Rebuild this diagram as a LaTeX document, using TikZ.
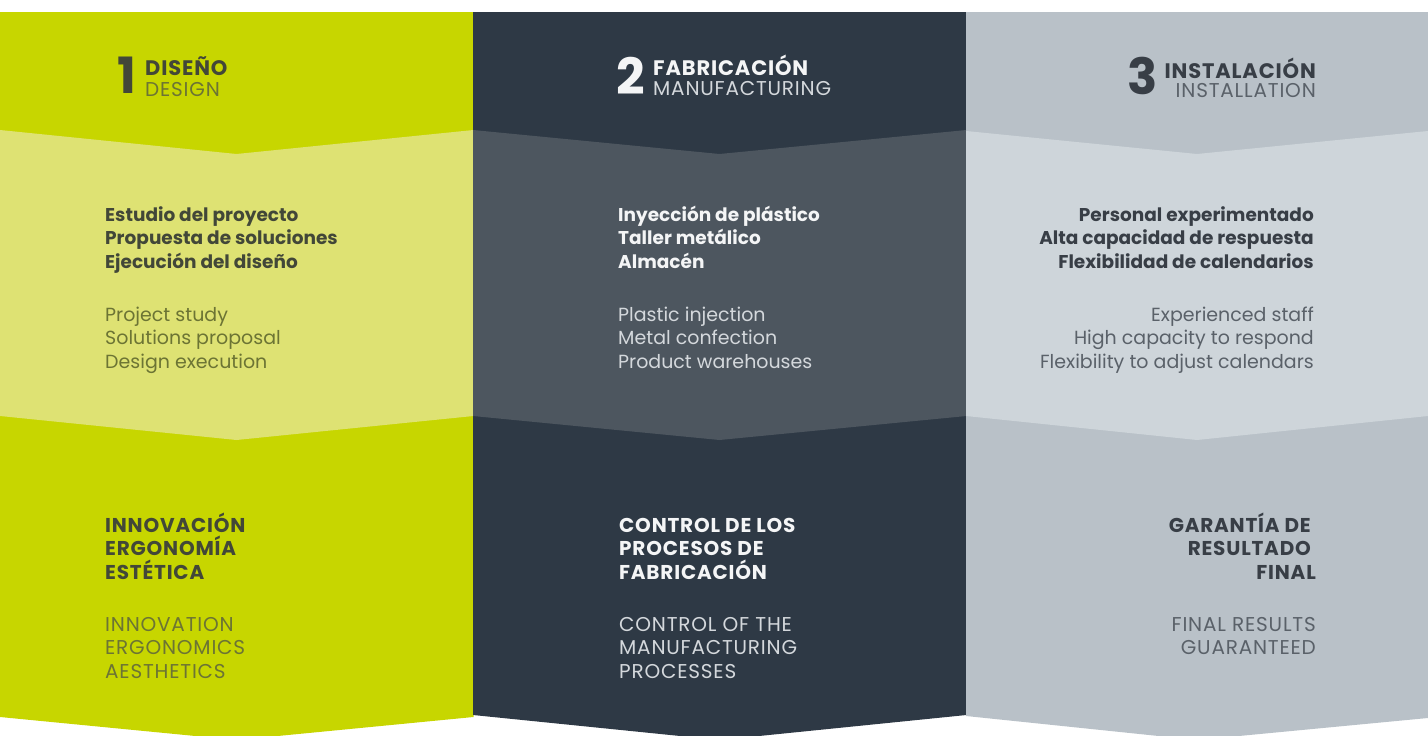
\documentclass[tikz,border=0pt]{standalone}
\usepackage{fontspec}
\setmainfont{Poppins}
\newfontfamily\widefont{Poppins}[LetterSpace=4]
\definecolor{limeB}{RGB}{199,214,0}
\definecolor{limeM}{RGB}{222,226,115}
\definecolor{darkB}{RGB}{46,57,69}
\definecolor{darkM}{RGB}{77,86,95}
\definecolor{greyB}{RGB}{185,193,200}
\definecolor{greyM}{RGB}{206,213,218}
\definecolor{t1a}{RGB}{66,71,56}
\definecolor{t1b}{RGB}{108,116,52}
\definecolor{t2a}{RGB}{244,245,246}
\definecolor{t2b}{RGB}{212,216,220}
\definecolor{t3a}{RGB}{56,62,70}
\definecolor{t3b}{RGB}{90,97,105}
\tikzset{
  numtxt/.style={inner sep=0pt, font=\fontsize{50}{50}\selectfont\bfseries},
  headtxt/.style={inner sep=0pt, font=\widefont\fontsize{21}{24}\selectfont\bfseries},
  subtxt/.style={inner sep=0pt, font=\widefont\fontsize{20}{24}\selectfont},
  estxt/.style={inner sep=0pt, font=\fontsize{18.5}{23}\selectfont\bfseries},
  entxt/.style={inner sep=0pt, font=\fontsize{19}{23}\selectfont},
  capes/.style={inner sep=0pt, font=\widefont\fontsize{20}{23}\selectfont\bfseries},
  capen/.style={inner sep=0pt, font=\widefont\fontsize{20}{23}\selectfont},
}
\begin{document}
\begin{tikzpicture}[x=1pt,y=-1pt]
\useasboundingbox (0,0) rectangle (1428,736);
\begin{scope}
\clip (0,0) rectangle (1428,736);
% column 1
\fill[limeB] (0,12) -- (473.5,12) -- (473.5,717) -- (236.5,740) -- (0,717) -- cycle;
\fill[limeM] (0,130) -- (236.5,154) -- (473.5,130) -- (473.5,416) -- (236.5,440) -- (0,416) -- cycle;
% column 2
\fill[darkB] (473,12) -- (966.5,12) -- (966.5,715) -- (719.5,740) -- (473,715) -- cycle;
\fill[darkM] (473,130) -- (719.5,154) -- (966.5,130) -- (966.5,416) -- (719.5,440) -- (473,416) -- cycle;
% column 3
\fill[greyB] (966,12) -- (1428,12) -- (1428,718) -- (1197,740) -- (966,716) -- cycle;
\fill[greyM] (966,131) -- (1197,154) -- (1428,131) -- (1428,416) -- (1197,440) -- (966,416) -- cycle;
\end{scope}

% ---------- headings ----------
\node[headtxt, text=t1a, anchor=base west] (h1) at (145,75) {DISEÑO};
\node[subtxt, text=t1b, anchor=base west] (s1) at (145,96) {DESIGN};
\node[numtxt, text=t1a, anchor=base east] (n1) at ([xshift=-9pt]h1.base west |- 0,93) {1};

\node[headtxt, text=t2a, anchor=base west] (h2) at (653,75) {FABRICACIÓN};
\node[subtxt, text=t2b, anchor=base west] (s2) at (653,95) {MANUFACTURING};
\node[numtxt, text=t2a, anchor=base east] (n2) at ([xshift=-8pt]h2.base west |- 0,94) {2};

\node[headtxt, text=t3a, anchor=base east] (h3) at (1316,78) {INSTALACIÓN};
\node[subtxt, text=t3b, anchor=base east] (s3) at (1316,97) {INSTALLATION};
\node[numtxt, text=t3a, anchor=base east] (n3) at ([xshift=-6pt]h3.base west |- 0,94) {3};

% ---------- middle band ----------
\foreach \t [count=\i] in {Estudio del proyecto, Propuesta de soluciones, Ejecución del diseño}
  \node[estxt, text=t1a, anchor=base west] (m1a\i) at (105,{221+23.5*(\i-1)}) {\t};
\foreach \t [count=\i] in {Project study, Solutions proposal, Design execution}
  \node[entxt, text=t1b, anchor=base west] (m1b\i) at (105,{321+23.5*(\i-1)}) {\t};

\foreach \t [count=\i] in {Inyección de plástico, Taller metálico, Almacén}
  \node[estxt, text=t2a, anchor=base west] (m2a\i) at (618,{221+23.5*(\i-1)}) {\t};
\foreach \t [count=\i] in {Plastic injection, Metal confection, Product warehouses}
  \node[entxt, text=t2b, anchor=base west] (m2b\i) at (618,{321+23.5*(\i-1)}) {\t};

\foreach \t [count=\i] in {Personal experimentado, Alta capacidad de respuesta, Flexibilidad de calendarios}
  \node[estxt, text=t3a, anchor=base east] (m3a\i) at (1314,{221+23.5*(\i-1)}) {\t};
\foreach \t [count=\i] in {Experienced staff, High capacity to respond, Flexibility to adjust calendars}
  \node[entxt, text=t3b, anchor=base east] (m3b\i) at (1314,{321+23.5*(\i-1)}) {\t};

% ---------- bottom band ----------
\foreach \t [count=\i] in {INNOVACIÓN, ERGONOMÍA, ESTÉTICA}
  \node[capes, text=t1a, anchor=base west] (b1a\i) at (105,{532+23.5*(\i-1)}) {\t};
\foreach \t [count=\i] in {INNOVATION, ERGONOMICS, AESTHETICS}
  \node[capen, text=t1b, anchor=base west] (b1b\i) at (105,{631+23.5*(\i-1)}) {\t};

\foreach \t [count=\i] in {CONTROL DE LOS, PROCESOS DE, FABRICACIÓN}
  \node[capes, text=t2a, anchor=base west] (b2a\i) at (619,{532+23.5*(\i-1)}) {\t};
\foreach \t [count=\i] in {CONTROL OF THE, MANUFACTURING, PROCESSES}
  \node[capen, text=t2b, anchor=base west] (b2b\i) at (619,{631+23.5*(\i-1)}) {\t};

\node[capes, text=t3a, anchor=base east] (b3a1) at (1311,532) {GARANTÍA DE};
\node[capes, text=t3a, anchor=base east] (b3a2) at (1311,555.5) {RESULTADO};
\node[capes, text=t3a, anchor=base east] (b3a3) at (1316,579) {FINAL};
\node[capen, text=t3b, anchor=base east] (b3b1) at (1316,631) {FINAL RESULTS};
\node[capen, text=t3b, anchor=base east] (b3b2) at (1316,654.5) {GUARANTEED};
\end{tikzpicture}
\end{document}
